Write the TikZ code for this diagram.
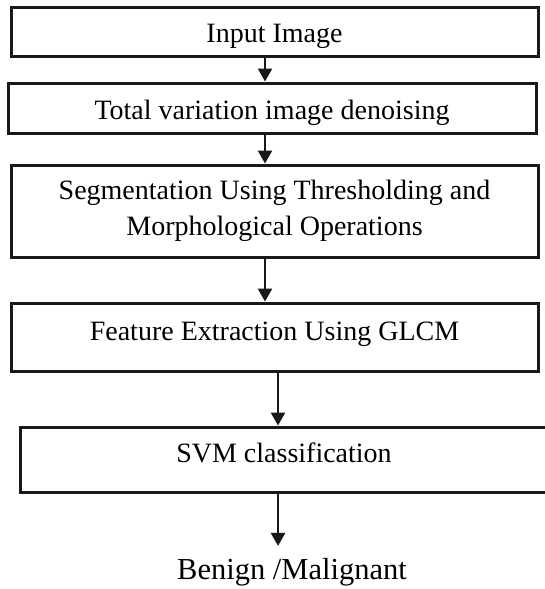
\documentclass[tikz,border=0pt]{standalone}
\usepackage{fontspec}
\setmainfont{Liberation Serif}
\usetikzlibrary{arrows.meta}

\tikzset{
  stagebox/.style={draw=black!90, line width=3pt, fill=white, inner sep=0pt,
    align=center, font=\fontsize{28}{36}\selectfont,
    text height=29pt, text depth=7pt},
  flow/.style={draw=black!90, line width=2.5pt,
    -{Triangle[width=14pt,length=13pt]}},
  outcome/.style={inner xsep=0pt, inner ysep=12pt,
    font=\fontsize{30.5}{36}\selectfont}
}

\begin{document}
\begin{tikzpicture}[x=1pt,y=-1pt]
  \useasboundingbox (0,0) rectangle (544,589);

  % processing stages
  \node[stagebox, minimum width=527pt, minimum height=49pt] (b1) at (274.5,31.5) {Input Image};
  \node[stagebox, minimum width=528pt, minimum height=50pt] (b2) at (272,108) {Total variation image denoising};
  \node[stagebox, minimum width=527pt, minimum height=92pt, text height=, text depth=] (b3) at (274.5,211)
    {Segmentation Using Thresholding and\\Morphological Operations};
  \node[stagebox, minimum width=527pt, minimum height=68pt, text height=25pt, text depth=19pt] (b4) at (274.5,337) {Feature Extraction Using GLCM};
  \node[stagebox, minimum width=528pt, minimum height=65pt, text height=25pt, text depth=19pt] (b5) at (284,459.5) {SVM classification};

  % final decision
  \node[outcome] (res) at (292,572) {Benign /Malignant};

  % arrow columns
  \coordinate (colA) at (265,0);
  \coordinate (colB) at (278,0);

  \draw[flow] (b1.south -| colA) -- (b2.north -| colA);
  \draw[flow] (b2.south -| colA) -- (b3.north -| colA);
  \draw[flow] (b3.south -| colA) -- (b4.north -| colA);
  \draw[flow] (b4.south -| colB) -- (b5.north -| colB);
  \draw[flow] (b5.south -| colB) -- (res.north -| colB);
\end{tikzpicture}
\end{document}
